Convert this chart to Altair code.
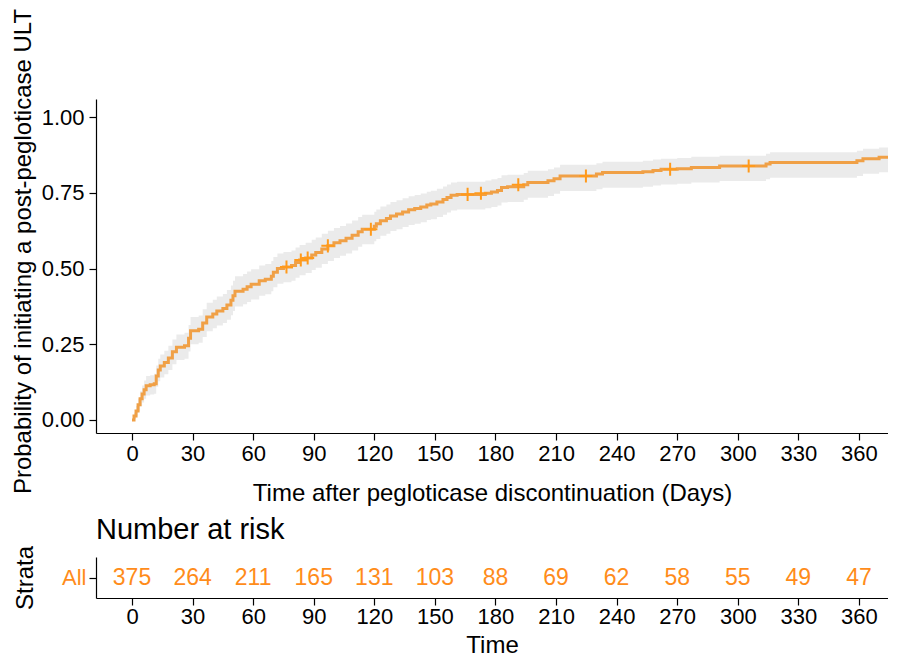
import altair as alt
import pandas as pd

FONT = "Liberation Sans"

# Kaplan-Meier cumulative incidence
times = [0, 1, 2, 3, 4, 5, 6, 7, 9, 11, 12, 13, 14, 16, 18, 20, 22, 26, 28, 29,
         33, 35, 37, 40, 42, 45, 47, 49, 50, 51, 55, 57, 59, 63, 66, 69, 70, 72, 75, 79,
         81, 83, 86, 89, 91, 94, 97, 100, 103, 106, 109, 112, 114, 120, 121, 123, 126, 128, 131, 134,
         137, 140, 143, 146, 148, 151, 154, 156, 158, 161, 175, 178, 181, 183, 186, 194, 196, 206, 209, 212,
         230, 233, 253, 258, 262, 270, 277, 291, 314, 316, 359, 362, 370, 376]
prob = [0.000, 0.013, 0.030, 0.050, 0.070, 0.086, 0.100, 0.113, 0.116, 0.120, 0.145, 0.165, 0.178, 0.190, 0.205, 0.225, 0.240, 0.245, 0.270, 0.295,
        0.300, 0.320, 0.340, 0.350, 0.360, 0.368, 0.380, 0.395, 0.410, 0.425, 0.432, 0.440, 0.448, 0.460, 0.465, 0.475, 0.488, 0.500, 0.505, 0.510,
        0.520, 0.528, 0.535, 0.545, 0.553, 0.565, 0.575, 0.585, 0.592, 0.600, 0.610, 0.622, 0.630, 0.640, 0.648, 0.658, 0.665, 0.674, 0.680, 0.687,
        0.694, 0.698, 0.703, 0.710, 0.713, 0.720, 0.728, 0.735, 0.742, 0.745, 0.749, 0.753, 0.758, 0.768, 0.770, 0.777, 0.784, 0.790, 0.797, 0.806,
        0.812, 0.817, 0.820, 0.824, 0.828, 0.830, 0.834, 0.839, 0.845, 0.850, 0.856, 0.863, 0.868, 0.873]
lower = [0.000, 0.003, 0.014, 0.029, 0.045, 0.058, 0.070, 0.081, 0.084, 0.087, 0.110, 0.128, 0.140, 0.151, 0.165, 0.184, 0.198, 0.202, 0.226, 0.250,
         0.255, 0.274, 0.293, 0.303, 0.312, 0.320, 0.331, 0.346, 0.360, 0.375, 0.382, 0.390, 0.398, 0.410, 0.415, 0.425, 0.438, 0.450, 0.455, 0.460,
         0.470, 0.478, 0.485, 0.495, 0.503, 0.515, 0.525, 0.535, 0.542, 0.550, 0.560, 0.572, 0.580, 0.590, 0.598, 0.608, 0.615, 0.624, 0.630, 0.637,
         0.644, 0.648, 0.653, 0.660, 0.663, 0.670, 0.678, 0.685, 0.692, 0.695, 0.699, 0.703, 0.708, 0.718, 0.720, 0.727, 0.734, 0.740, 0.747, 0.756,
         0.762, 0.767, 0.770, 0.774, 0.778, 0.780, 0.784, 0.789, 0.795, 0.800, 0.806, 0.813, 0.818, 0.823]
upper = [0.000, 0.024, 0.046, 0.071, 0.095, 0.114, 0.130, 0.145, 0.148, 0.153, 0.180, 0.202, 0.216, 0.229, 0.245, 0.266, 0.282, 0.288, 0.314, 0.340,
         0.345, 0.366, 0.387, 0.397, 0.408, 0.416, 0.429, 0.444, 0.460, 0.475, 0.482, 0.490, 0.498, 0.510, 0.515, 0.525, 0.538, 0.550, 0.555, 0.560,
         0.570, 0.578, 0.585, 0.595, 0.603, 0.615, 0.625, 0.634, 0.641, 0.649, 0.659, 0.670, 0.678, 0.688, 0.695, 0.705, 0.712, 0.720, 0.726, 0.732,
         0.739, 0.743, 0.748, 0.754, 0.757, 0.764, 0.771, 0.778, 0.784, 0.787, 0.791, 0.795, 0.799, 0.808, 0.810, 0.816, 0.823, 0.828, 0.834, 0.843,
         0.848, 0.853, 0.856, 0.860, 0.863, 0.865, 0.869, 0.873, 0.879, 0.884, 0.889, 0.896, 0.900, 0.905]

censor_times = [76.5, 83.6, 87, 97, 118.3, 166.2, 172.8, 191.3, 224.8, 266.5, 305.4]
censor_prob = [0.505, 0.528, 0.535, 0.575, 0.630, 0.745, 0.749, 0.777, 0.806, 0.828, 0.839]

risk_times = [0, 30, 60, 90, 120, 150, 180, 210, 240, 270, 300, 330, 360]
risk_counts = [375, 264, 211, 165, 131, 103, 88, 69, 62, 58, 55, 49, 47]
strata = ["All"] * len(risk_times)

x_ticks = list(range(0, 361, 30))
y_ticks = [0, 0.25, 0.5, 0.75, 1.0]

LINE_C = "#F0A046"
CENSOR_C = "#FF9A1C"
TEXT_C = "#FF8C1A"
BAND_C = "#EBEBEB"

XDOM = [-17.83, 374.4]
W = 792

km = pd.DataFrame({"t": times, "p": prob, "lo": lower, "hi": upper})
cens = pd.DataFrame({"t": censor_times, "p": censor_prob})
risk = pd.DataFrame({"t": risk_times, "n": risk_counts, "s": strata})

xs = alt.Scale(domain=XDOM, nice=False, zero=False)
ys = alt.Scale(domain=[-0.043, 1.06], nice=False, zero=False)

axis_common = dict(grid=False, domainColor="black", tickColor="black", domainWidth=1.2,
                   tickWidth=1.2, tickSize=7, labelFont=FONT, labelFontSize=22,
                   labelColor="black", titleFont=FONT, titleFontSize=24,
                   titleFontWeight="normal", titleColor="black")

base = alt.Chart(km)
band = base.mark_area(interpolate="step-after", color=BAND_C, clip=True).encode(
    x=alt.X("t:Q", scale=xs,
            axis=alt.Axis(values=x_ticks, title="Time after pegloticase discontinuation (Days)",
                          labelPadding=3, titlePadding=17, **axis_common)),
    y=alt.Y("lo:Q", scale=ys,
            axis=alt.Axis(values=y_ticks, format=".2f",
                          title="Probability of initiating a post-pegloticase ULT",
                          labelPadding=5, titlePadding=6, titleY=152, **axis_common)),
    y2="hi:Q",
)
line = base.mark_line(interpolate="step-after", color=LINE_C, strokeWidth=3, clip=True).encode(
    x=alt.X("t:Q", scale=xs), y=alt.Y("p:Q", scale=ys)
)
marks = alt.Chart(cens).mark_point(shape="M-1,0L1,0M0,-1L0,1", size=170, strokeWidth=2,
                                   color=CENSOR_C, filled=False, opacity=1).encode(
    x=alt.X("t:Q", scale=xs), y=alt.Y("p:Q", scale=ys)
)
main = alt.layer(band, line, marks).properties(width=W, height=334)

table = alt.Chart(risk).mark_text(font=FONT, fontSize=23, color=TEXT_C).encode(
    x=alt.X("t:Q", scale=xs,
            axis=alt.Axis(values=x_ticks, title="Time", labelPadding=1, titlePadding=6,
                          **axis_common)),
    y=alt.Y("s:N", axis=alt.Axis(title="Strata", labelPadding=3, titlePadding=24,
                                 **{**axis_common, "labelColor": TEXT_C})),
    text="n:Q",
).properties(width=W, height=41,
             title=alt.TitleParams("Number at risk", anchor="start", frame="group",
                                   font=FONT, fontSize=29, fontWeight="normal",
                                   color="black", offset=0))

chart = alt.vconcat(main, table, spacing=11).configure_view(stroke=None).properties(
    padding={"left": 3, "top": 0, "right": 0, "bottom": 0}, background="white")

chart.save("out.html", embed_options={"renderer": "svg", "actions": False})
